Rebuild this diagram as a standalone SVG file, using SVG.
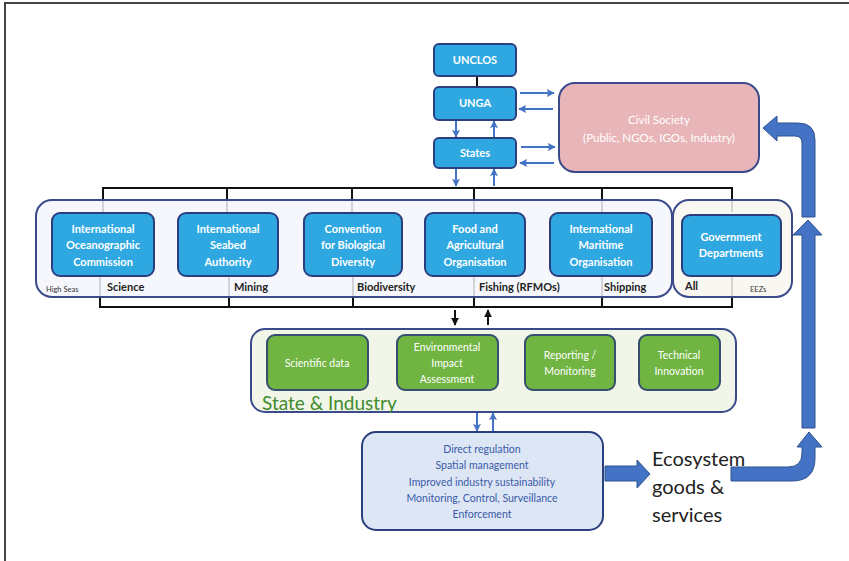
<svg xmlns="http://www.w3.org/2000/svg" width="849" height="561" viewBox="0 0 849 561">
<defs>
<marker id="ah" viewBox="0 0 10 10" refX="9" refY="5" markerWidth="8" markerHeight="8" orient="auto" markerUnits="userSpaceOnUse">
<path d="M0,0 L10,5 L0,10 L2,5 z" fill="#4472C4"/>
</marker>
<marker id="ahk" viewBox="0 0 10 10" refX="9" refY="5" markerWidth="8" markerHeight="8" orient="auto" markerUnits="userSpaceOnUse">
<path d="M0,0 L10,5 L0,10 z" fill="#111"/>
</marker>
<style>
.blue{fill:#2FA8E2;stroke:#2B3F7E;stroke-width:2}
.green{fill:#70B442;stroke:#34506E;stroke-width:2}
.bt{font-family:Lato,"Liberation Sans",sans-serif;font-weight:bold;font-size:11px;fill:#fff;text-anchor:middle}
.gt{font-family:Lato,"Liberation Sans",sans-serif;font-size:10.5px;fill:#fff;text-anchor:middle}
.ct{font-family:Lato,"Liberation Sans",sans-serif;font-size:11.5px;fill:#fff;text-anchor:middle}
.lab{font-family:Lato,"Liberation Sans",sans-serif;font-weight:bold;font-size:11px;fill:#222}
.tiny{font-family:Lato,"Liberation Sans",sans-serif;font-size:7.5px;fill:#333}
.bus{stroke:#111;stroke-width:2;fill:none}
.sa{stroke:#4472C4;stroke-width:2;fill:none;marker-end:url(#ah)}
.ka{stroke:#111;stroke-width:2;fill:none;marker-end:url(#ahk)}
.big{fill:#4472C4;stroke:#2F528F;stroke-width:1}
</style>
</defs>
<rect width="849" height="561" fill="#fff"/>
<path d="M5,561 V3 H849" stroke="#444" stroke-width="2" fill="none"/>

<g id="connectors">
<line x1="477" y1="76" x2="477" y2="87" class="bus"/>
<line x1="456" y1="121" x2="456" y2="137" class="sa"/>
<line x1="494" y1="137" x2="494" y2="121" class="sa"/>
<line x1="456" y1="169" x2="456" y2="186" class="sa"/>
<line x1="494" y1="186" x2="494" y2="169" class="sa"/>
<line x1="520" y1="93" x2="554" y2="93" class="sa"/>
<line x1="553" y1="109" x2="519" y2="109" class="sa"/>
<line x1="521" y1="147" x2="555" y2="147" class="sa"/>
<line x1="554" y1="163" x2="520" y2="163" class="sa"/>
<path d="M103,212 V188 H732 V212" class="bus"/>
<line x1="227" y1="188" x2="227" y2="212" class="bus"/>
<line x1="352" y1="188" x2="352" y2="212" class="bus"/>
<line x1="474" y1="188" x2="474" y2="212" class="bus"/>
<line x1="602" y1="188" x2="602" y2="212" class="bus"/>
<path d="M100,277 V307 H732 V277" class="bus"/>
<line x1="229" y1="277" x2="229" y2="307" class="bus"/>
<line x1="353" y1="277" x2="353" y2="307" class="bus"/>
<line x1="474" y1="277" x2="474" y2="307" class="bus"/>
<line x1="602" y1="277" x2="602" y2="307" class="bus"/>
<line x1="455" y1="310" x2="455" y2="325" class="ka"/>
<line x1="488" y1="325" x2="488" y2="310" class="ka"/>
<line x1="477" y1="413" x2="477" y2="431" class="sa"/>
<line x1="493" y1="431" x2="493" y2="413" class="sa"/>
<path class="big" d="M605,466 H637 V460 L650,474 L637,488 V481 H605 z"/>
<path class="big" d="M731,467 H788 Q802,467 802,453 V447 H797 L809,432 L822,447 H815 V458 Q815,481 792,481 H731 z"/>
<path class="big" d="M802,428 V235 H793 L808,220 L822,235 H815 V428 z"/>
<path class="big" d="M802,217 V143 Q802,136 795,136 H777 V141 L763,128 L777,116 V123 H798 Q815,123 815,140 V217 z"/>
</g>

<g id="unclos"><rect x="434" y="44" width="82" height="32" rx="5" class="blue"/><text x="475" y="64" class="bt">UNCLOS</text></g>
<g id="unga"><rect x="434" y="87" width="82" height="33" rx="5" class="blue"/><text x="475" y="107" class="bt">UNGA</text></g>
<g id="states"><rect x="434" y="138" width="82" height="30" rx="5" class="blue"/><text x="475" y="157" class="bt">States</text></g>
<g id="civil"><rect x="559" y="83" width="200" height="89" rx="16" fill="#E8B6B9" stroke="#3B4A8A" stroke-width="2"/>
<text x="659" y="124" class="ct">Civil Society</text><text x="659" y="142" class="ct">(Public, NGOs, IGOs, Industry)</text></g>

<g id="highseas"><rect x="36" y="200" width="636" height="97" rx="16" fill="#F5F6FB" fill-opacity="0.85" stroke="#3B4A8A" stroke-width="2"/>
<text x="46" y="292" class="tiny">High Seas</text></g>
<g id="eezs"><rect x="673" y="200" width="119" height="97" rx="16" fill="#F8F6EE" fill-opacity="0.85" stroke="#3B4A8A" stroke-width="2"/>
<text x="750" y="292" class="tiny">EEZs</text></g>

<g id="ioc"><rect x="52" y="213" width="102" height="63" rx="8" class="blue"/>
<text x="103" y="233" class="bt">International</text><text x="103" y="249" class="bt">Oceanographic</text><text x="103" y="266" class="bt">Commission</text>
<text x="107" y="291" class="lab">Science</text></g>
<g id="isa"><rect x="178" y="213" width="100" height="63" rx="8" class="blue"/>
<text x="228" y="233" class="bt">International</text><text x="228" y="249" class="bt">Seabed</text><text x="228" y="266" class="bt">Authority</text>
<text x="234" y="291" class="lab">Mining</text></g>
<g id="cbd"><rect x="304" y="213" width="98" height="63" rx="8" class="blue"/>
<text x="353" y="233" class="bt">Convention</text><text x="353" y="249" class="bt">for Biological</text><text x="353" y="266" class="bt">Diversity</text>
<text x="357" y="291" class="lab">Biodiversity</text></g>
<g id="fao"><rect x="425" y="213" width="100" height="63" rx="8" class="blue"/>
<text x="475" y="233" class="bt">Food and</text><text x="475" y="249" class="bt">Agricultural</text><text x="475" y="266" class="bt">Organisation</text>
<text x="479" y="291" class="lab">Fishing (RFMOs)</text></g>
<g id="imo"><rect x="550" y="213" width="102" height="63" rx="8" class="blue"/>
<text x="601" y="233" class="bt">International</text><text x="601" y="249" class="bt">Maritime</text><text x="601" y="266" class="bt">Organisation</text>
<text x="604" y="291" class="lab">Shipping</text></g>
<g id="gov"><rect x="682" y="215" width="99" height="61" rx="8" class="blue"/>
<text x="731" y="241" class="bt">Government</text><text x="731" y="257" class="bt">Departments</text>
<text x="685" y="290" class="lab">All</text></g>

<g id="stateindustry"><rect x="251" y="329" width="485" height="83" rx="14" fill="#F1F6E9" stroke="#3B4A8A" stroke-width="2"/>
<text x="262" y="410" font-family="Lato,'Liberation Sans',sans-serif" font-size="19" fill="#3F8A2E">State &amp; Industry</text></g>
<g id="sci"><rect x="267" y="335" width="101" height="55" rx="8" class="green"/><text x="317" y="367" class="gt">Scientific data</text></g>
<g id="eia"><rect x="397" y="335" width="101" height="55" rx="8" class="green"/>
<text x="447" y="351" class="gt">Environmental</text><text x="447" y="367" class="gt">Impact</text><text x="447" y="383" class="gt">Assessment</text></g>
<g id="rep"><rect x="525" y="335" width="90" height="55" rx="8" class="green"/>
<text x="570" y="359" class="gt">Reporting /</text><text x="570" y="375" class="gt">Monitoring</text></g>
<g id="tech"><rect x="639" y="335" width="81" height="55" rx="8" class="green"/>
<text x="679" y="359" class="gt">Technical</text><text x="679" y="375" class="gt">Innovation</text></g>

<g id="regulation"><rect x="362" y="432" width="241" height="98" rx="14" fill="#DDE6F5" stroke="#2B3F7E" stroke-width="2"/>
<g font-family="Lato,'Liberation Sans',sans-serif" font-size="10.5" fill="#3A5BA8" text-anchor="middle">
<text x="482" y="453">Direct regulation</text><text x="482" y="469">Spatial management</text><text x="482" y="486">Improved industry sustainability</text><text x="482" y="502">Monitoring, Control, Surveillance</text><text x="482" y="518">Enforcement</text></g></g>

<g id="ecosystem" font-family="Lato,'Liberation Sans',sans-serif" font-size="20" fill="#222">
<text x="652" y="466">Ecosystem</text><text x="652" y="494">goods &amp;</text><text x="652" y="522">services</text></g>
</svg>
